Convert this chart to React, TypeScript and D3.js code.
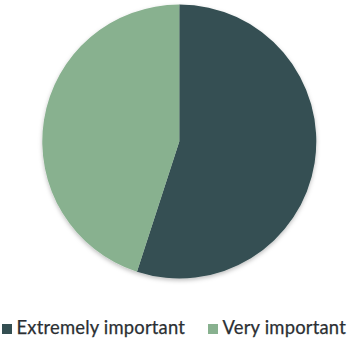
import React from "react";
import * as d3 from "d3";

const categories = ["Extremely important", "Very important"];
const values = [55, 45];
const colors = ["#344f52", "#88b18f"];

export default function App() {
  const width = 348;
  const height = 341;
  const cx = 179.3;
  const cy = 141.5;
  const r = 137;
  const pie = d3.pie<number>().sort(null).value((d) => d);
  const arcs = pie(values);
  const arc = d3.arc<d3.PieArcDatum<number>>().innerRadius(0).outerRadius(r);
  const legendX = [2, 208];
  return (
    <svg
      width={width}
      height={height}
      style={{ position: "absolute", left: 0, top: 0 }}
    >
      <defs>
        <filter id="sh" x="-20%" y="-20%" width="140%" height="140%">
          <feDropShadow dx="0" dy="2" stdDeviation="2" floodColor="#000" floodOpacity="0.25" />
        </filter>
      </defs>
      <g transform={`translate(${cx},${cy})`} filter="url(#sh)">
        {arcs.map((a, i) => (
          <path key={i} d={arc(a) || ""} fill={colors[i]} />
        ))}
      </g>
      {categories.map((c, i) => (
        <g key={c} transform={`translate(${legendX[i]},334)`}>
          <rect x={0} y={-10} width={10} height={10} fill={colors[i]} />
          <text
            x={14.5}
            y={0}
            fontFamily="Lato"
            fontSize={18.4}
            letterSpacing={0.2}
            stroke="#2b2f33"
            strokeWidth={0.25}
            fill="#2b2f33"
          >
            {c}
          </text>
        </g>
      ))}
    </svg>
  );
}
